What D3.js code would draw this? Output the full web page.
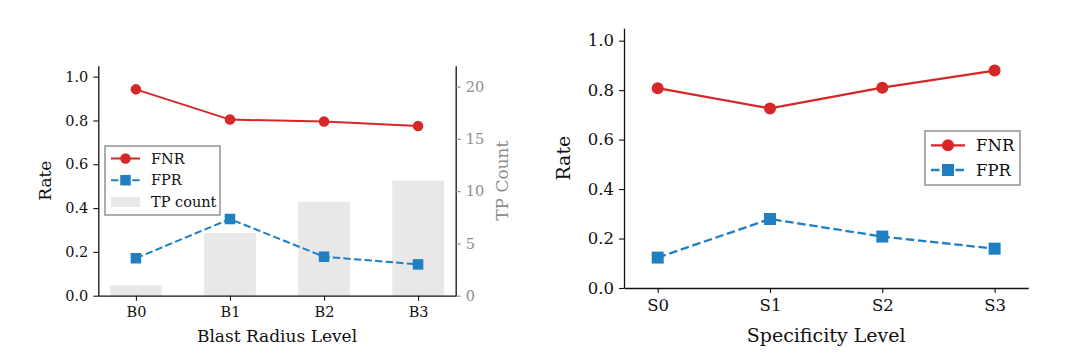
<!DOCTYPE html>
<html><head><meta charset="utf-8">
<script src="https://cdn.jsdelivr.net/npm/d3@7"></script>
<style>html,body{margin:0;padding:0;background:#fff;} svg{display:block;} svg text{font-family:"DejaVu Serif","Liberation Serif",serif !important;}</style>
</head><body>
<svg id="c" width="1080" height="364"></svg>
<script>
// ---- data ----
const blastLevels = ["B0", "B1", "B2", "B3"];
const blastFNR = [0.942, 0.804, 0.795, 0.775];
const blastFPR = [0.171, 0.350, 0.178, 0.143];
const blastTP = [1, 6, 9, 11];
const specLevels = ["S0", "S1", "S2", "S3"];
const specFNR = [0.808, 0.726, 0.810, 0.879];
const specFPR = [0.123, 0.279, 0.208, 0.159];
const rateTicks = [0, 0.2, 0.4, 0.6, 0.8, 1.0];
const countTicks = [0, 5, 10, 15, 20];

const RED = "#d62728", BLUE = "#1f7fc0", BAR = "#e8e8e8", GRAYTXT = "#8c8c8c";
const FONT = "DejaVu Serif";
const svg = d3.select("#c");

function panel(o) {
  const g = svg.append("g");
  const x = d3.scaleLinear().domain([-o.pad, o.cats.length - 1 + o.pad]).range([o.x0, o.x1]);
  const y = d3.scaleLinear().domain([0, 1.05]).range([o.y0, o.y1]);
  let y2 = null;
  if (o.bars) {
    y2 = d3.scaleLinear().domain([0, 22]).range([o.y0, o.y1]);
    const bw = (x(1) - x(0)) * 0.55;
    g.selectAll("rect.bar").data(o.bars).enter().append("rect")
      .attr("x", (d, i) => x(i) - bw / 2).attr("width", bw)
      .attr("y", d => y2(d)).attr("height", d => y2(0) - y2(d))
      .attr("fill", BAR);
  }
  const ax = g.append("g").attr("transform", `translate(0,${o.y0})`)
    .call(d3.axisBottom(x).tickValues(d3.range(o.cats.length)).tickFormat(i => o.cats[i]).tickSize(5).tickPadding(6).tickSizeOuter(0));
  const ay = g.append("g").attr("transform", `translate(${o.x0},0)`)
    .call(d3.axisLeft(y).tickValues(rateTicks).tickFormat(d3.format(".1f")).tickSize(5).tickPadding(5).tickSizeOuter(0));
  [ax, ay].forEach(a => {
    a.attr("font-family", FONT);
    a.selectAll("text").style("font-family", FONT).attr("font-size", o.tickFs).attr("fill", "#111");
    a.selectAll("line").attr("stroke", "#111").attr("stroke-width", 1.1);
    a.select(".domain").attr("stroke", "#111").attr("stroke-width", 1.3);
  });
  if (y2) {
    const ar = g.append("g").attr("transform", `translate(${o.x1},0)`)
      .call(d3.axisRight(y2).tickValues(countTicks).tickSize(5).tickPadding(5).tickSizeOuter(0));
    ar.attr("font-family", FONT);
    ar.selectAll("text").style("font-family", FONT).attr("font-size", o.tickFs).attr("fill", GRAYTXT);
    ar.selectAll("line").attr("stroke", GRAYTXT).attr("stroke-width", 1.1);
    ar.select(".domain").attr("stroke", "#111").attr("stroke-width", 1.3);
    g.append("text").attr("transform", `translate(${o.x1 + 52},${(o.y0 + o.y1) / 2}) rotate(-90)`)
      .attr("text-anchor", "middle").style("font-family", FONT).attr("font-size", o.labFs)
      .attr("fill", GRAYTXT).text("TP Count");
  }
  g.append("text").attr("x", (o.x0 + o.x1) / 2).attr("y", o.xlabY).attr("text-anchor", "middle")
    .style("font-family", FONT).attr("font-size", o.labFs).attr("fill", "#111").text(o.xlabel);
  g.append("text").attr("transform", `translate(${o.ylabX},${(o.y0 + o.y1) / 2}) rotate(-90)`)
    .attr("text-anchor", "middle").style("font-family", FONT).attr("font-size", o.labFs).attr("fill", "#111").text("Rate");
  const line = d3.line().x((d, i) => x(i)).y(d => y(d));
  g.append("path").attr("d", line(o.fnr)).attr("fill", "none").attr("stroke", RED).attr("stroke-width", o.lw);
  g.append("path").attr("d", line(o.fpr)).attr("fill", "none").attr("stroke", BLUE).attr("stroke-width", o.lw)
    .attr("stroke-dasharray", `${3.7 * o.lw},${1.6 * o.lw}`);
  g.selectAll("circle.m").data(o.fnr).enter().append("circle")
    .attr("cx", (d, i) => x(i)).attr("cy", d => y(d)).attr("r", o.ms / 2).attr("fill", RED);
  g.selectAll("rect.m").data(o.fpr).enter().append("rect")
    .attr("x", (d, i) => x(i) - o.ms / 2).attr("y", d => y(d) - o.ms / 2)
    .attr("width", o.ms).attr("height", o.ms).attr("fill", BLUE);
  const L = o.leg;
  const lg = g.append("g");
  lg.append("rect").attr("x", L.x).attr("y", L.y).attr("width", L.w).attr("height", L.h)
    .attr("fill", "#fff").attr("stroke", "#999").attr("stroke-width", 1.6);
  const entries = [{n: "FNR", t: "c"}, {n: "FPR", t: "s"}];
  if (o.bars) entries.push({n: "TP count", t: "b"});
  entries.forEach((e, i) => {
    const cy = L.y + L.first + i * L.step;
    const hx0 = L.x + L.hx0, hx1 = L.x + L.hx1, hm = (hx0 + hx1) / 2;
    if (e.t === "c") {
      lg.append("line").attr("x1", hx0).attr("x2", hx1).attr("y1", cy).attr("y2", cy).attr("stroke", RED).attr("stroke-width", o.lw);
      lg.append("circle").attr("cx", hm).attr("cy", cy).attr("r", o.ms / 2).attr("fill", RED);
    } else if (e.t === "s") {
      lg.append("line").attr("x1", hx0).attr("x2", hx1).attr("y1", cy).attr("y2", cy).attr("stroke", BLUE).attr("stroke-width", o.lw)
        .attr("stroke-dasharray", `${3.7 * o.lw},${1.6 * o.lw}`);
      lg.append("rect").attr("x", hm - o.ms / 2).attr("y", cy - o.ms / 2).attr("width", o.ms).attr("height", o.ms).attr("fill", BLUE);
    } else {
      lg.append("rect").attr("x", hx0).attr("y", cy - 5).attr("width", hx1 - hx0).attr("height", 10).attr("fill", BAR);
    }
    lg.append("text").attr("x", L.x + L.tx).attr("y", cy).attr("dy", "0.35em")
      .style("font-family", FONT).attr("font-size", o.tickFs).attr("fill", "#111").text(e.n);
  });
}

panel({
  cats: blastLevels, fnr: blastFNR, fpr: blastFPR, bars: blastTP, pad: 0.4,
  x0: 98.3, x1: 455.7, y0: 295.7, y1: 65.7,
  tickFs: 14.5, labFs: 17, lw: 2, ms: 10.5,
  xlabel: "Blast Radius Level", xlabY: 342, ylabX: 51,
  leg: {x: 105, y: 146, w: 115, h: 69, first: 12.5, step: 21.7, hx0: 6, hx1: 35, tx: 46}
});
panel({
  cats: specLevels, fnr: specFNR, fpr: specFPR, bars: null, pad: 0.3,
  x0: 624, x1: 1028.3, y0: 288, y1: 28.3,
  tickFs: 16.5, labFs: 19, lw: 2.3, ms: 12,
  xlabel: "Specificity Level", xlabY: 342, ylabX: 570,
  leg: {x: 925, y: 131, w: 95, h: 54, first: 14.3, step: 24.7, hx0: 6, hx1: 40, tx: 51}
});
</script>
</body></html>
